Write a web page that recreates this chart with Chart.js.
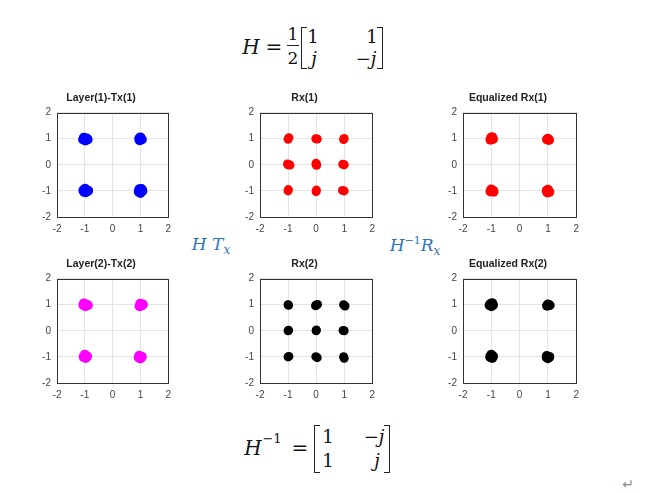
<!DOCTYPE html>
<html>
<head>
<meta charset="utf-8">
<script src="https://cdn.jsdelivr.net/npm/chart.js@4/dist/chart.umd.min.js"></script>
<style>
  body { margin: 0; background: #fff; }
  #page { position: relative; width: 663px; height: 493px; overflow: hidden; }
  canvas { position: absolute; }
  .m { position: absolute; transform: translate(-50%, -50%); font-family: "DejaVu Serif", serif; color: #111; white-space: nowrap; line-height: 1; }
  .i { font-style: italic; }
  .blue { color: #2e75b6; }
  .brl, .brr { position: absolute; border: 1.6px solid #222; width: 5px; }
  .brl { border-right: none; }
  .brr { border-left: none; }
  .fline { position: absolute; height: 1.4px; background: #222; }
</style>
</head>
<body>
<div id="page">
  <!-- top equation: H = 1/2 [1 1; j -j] -->
  <div class="m i" style="left:251px; top:47px; font-size:20px;">H</div>
  <div class="m" style="left:274px; top:47px; font-size:20px;">=</div>
  <div class="m" style="left:293px; top:34px; font-size:17px;">1</div>
  <div class="fline" style="left:287px; top:45px; width:12px;"></div>
  <div class="m" style="left:293px; top:58px; font-size:17px;">2</div>
  <div class="brl" style="left:301px; top:27px; height:40px;"></div>
  <div class="m" style="left:313px; top:37px; font-size:18px;">1</div>
  <div class="m" style="left:372px; top:37px; font-size:18px;">1</div>
  <div class="m i" style="left:314px; top:59px; font-size:18px;">j</div>
  <div class="m" style="left:366px; top:59px; font-size:18px;">&minus;<span class="i">j</span></div>
  <div class="brr" style="left:377px; top:27px; height:40px;"></div>

  <!-- blue labels -->
  <div class="m i blue" style="left:211px; top:246px; font-size:17px;">H T<sub style="font-size:12px;">x</sub></div>
  <div class="m i blue" style="left:415px; top:246px; font-size:17px;">H<sup style="font-size:11px; font-style:normal;">&minus;1</sup>R<sub style="font-size:12px;">x</sub></div>

  <!-- bottom equation: H^-1 = [1 -j; 1 j] -->
  <div class="m i" style="left:253px; top:448px; font-size:20px;">H</div>
  <div class="m" style="left:272px; top:438px; font-size:13px;">&minus;1</div>
  <div class="m" style="left:300px; top:448px; font-size:20px;">=</div>
  <div class="brl" style="left:314px; top:425px; height:46px;"></div>
  <div class="m" style="left:328px; top:437px; font-size:18px;">1</div>
  <div class="m" style="left:374px; top:437px; font-size:18px;">&minus;<span class="i">j</span></div>
  <div class="m" style="left:328px; top:461px; font-size:18px;">1</div>
  <div class="m i" style="left:377px; top:461px; font-size:18px;">j</div>
  <div class="brr" style="left:384px; top:425px; height:46px;"></div>

  <div class="m" style="left:628px; top:484px; font-size:14px; color:#888; font-family:'DejaVu Sans';">&#8629;</div>
</div>
<script>
// axis ticks shared by every subplot
const tickValues = [-2, -1, 0, 1, 2];

// subplot titles and colours
const titles = ['Layer(1)-Tx(1)', 'Rx(1)', 'Equalized Rx(1)', 'Layer(2)-Tx(2)', 'Rx(2)', 'Equalized Rx(2)'];
const colors = ['#0000ff', '#ff0000', '#ff0000', '#ff00ff', '#000000', '#000000'];

const tx1Points = [
  [-1.03, 1.04], [-0.93, 1.01], [-0.98, 0.93], [-1.06, 0.97], [-0.9, 0.97],
  [1.0, 1.05], [1.05, 0.97], [0.97, 0.94], [0.96, 1.01],
  [-1.05, -0.98], [-0.96, -1.05], [-0.88, -0.99], [-0.99, -0.92], [-1.02, -1.04],
  [0.96, -0.94], [1.07, -1.0], [1.0, -1.08], [0.94, -1.03], [1.04, -0.93]
];
const rx1Points = [
  [-0.97, 1.04], [-1.0, 0.98], [-0.01, 1.0], [0.04, 0.99], [1.0, 1.01], [0.98, 0.97],
  [-1.0, 0.0], [-0.93, -0.01], [-1.02, 0.03], [0.0, 0.06], [0.02, -0.02], [0.0, 0.0], [1.0, 0.0], [0.95, 0.02],
  [-1.0, -1.0], [-0.99, -0.95], [0.0, -1.03], [0.01, -0.97], [1.0, -1.0], [0.94, -0.98]
];
const eq1Points = [
  [-1.0, 1.04], [-0.94, 0.99], [-1.03, 0.96], [-0.97, 1.06],
  [1.0, 1.0], [1.04, 0.95], [0.97, 0.97],
  [-1.03, -1.02], [-0.94, -0.99], [-1.0, -0.95], [-0.92, -1.03],
  [1.0, -0.96], [1.05, -1.04], [0.98, -1.06], [0.96, -0.99]
];
const tx2Points = [
  [-1.03, 1.05], [-0.94, 1.0], [-0.98, 0.94], [-1.05, 0.99], [-0.89, 0.98],
  [1.0, 1.04], [1.05, 0.97], [0.97, 0.94], [1.09, 1.01],
  [-1.0, -0.92], [-0.97, -1.04], [-1.04, -1.0], [-0.92, -0.98],
  [0.96, -0.96], [1.05, -1.0], [1.0, -1.06], [0.94, -1.02]
];
const rx2Points = [
  [-1.0, 1.0], [-0.98, 0.98], [0.0, 0.99], [0.05, 1.01], [-0.02, 0.96], [0.98, 1.0], [1.03, 0.95],
  [-1.0, 0.0], [-0.98, 0.02], [0.0, 0.0], [0.01, 0.03], [1.0, 0.0], [0.96, 0.01],
  [-1.0, -1.0], [-0.97, -0.98], [-0.01, -0.99], [0.04, -1.03], [0.98, -0.99], [1.0, -1.05]
];
const eq2Points = [
  [-1.03, 1.03], [-0.94, 0.99], [-1.0, 0.94], [-0.97, 1.06], [-1.06, 0.98],
  [1.0, 1.01], [1.06, 0.98], [0.97, 0.96],
  [-1.0, -0.92], [-0.97, -1.04], [-1.04, -1.0], [-0.94, -0.98],
  [0.96, -0.97], [1.05, -1.0], [1.0, -1.05], [0.96, -1.02]
];
const allPoints = [tx1Points, rx1Points, eq1Points, tx2Points, rx2Points, eq2Points];
const pointSizes = [5, 4.5, 5, 5, 4.5, 5];

// plot-area boxes on the page: left, top, width, height
const plotBoxes = [
  [57, 113, 112, 104], [260, 113, 113, 104], [463, 113, 114, 104],
  [57, 279, 112, 104], [260, 279, 113, 104], [463, 279, 114, 104]
];

const Y_AXIS_W = 24;
const X_AXIS_H = 20;
const TITLE_H = 24;
const RIGHT_PAD = 8;

// draws the full dark box around the plot area
const boxPlugin = {
  id: 'box',
  afterDraw(chart) {
    const { ctx, chartArea: a } = chart;
    ctx.save();
    ctx.strokeStyle = '#333';
    ctx.lineWidth = 1;
    ctx.strokeRect(Math.round(a.left) + 0.5, Math.round(a.top) + 0.5, Math.round(a.right - a.left), Math.round(a.bottom - a.top));
    ctx.restore();
  }
};

const page = document.getElementById('page');

allPoints.forEach((pts, i) => {
  const [pl, pt, pw, ph] = plotBoxes[i];
  const canvas = document.createElement('canvas');
  const w = Y_AXIS_W + pw + RIGHT_PAD;
  const h = TITLE_H + ph + X_AXIS_H;
  canvas.width = w;
  canvas.height = h;
  canvas.style.left = (pl - Y_AXIS_W) + 'px';
  canvas.style.top = (pt - TITLE_H) + 'px';
  canvas.style.width = w + 'px';
  canvas.style.height = h + 'px';
  page.appendChild(canvas);

  const axis = {
    type: 'linear',
    min: -2,
    max: 2,
    afterBuildTicks: (s) => { s.ticks = tickValues.map((v) => ({ value: v })); },
    grid: { color: '#e3e3e3', drawTicks: false },
    border: { display: false }
  };

  new Chart(canvas, {
    type: 'scatter',
    data: {
      datasets: [{
        data: pts.map((p) => ({ x: p[0], y: p[1] })),
        backgroundColor: colors[i],
        borderWidth: 0,
        pointRadius: pointSizes[i]
      }]
    },
    options: {
      responsive: false,
      devicePixelRatio: 1,
      animation: false,
      layout: { padding: { left: 0, right: RIGHT_PAD, top: 0, bottom: 0 } },
      plugins: {
        legend: { display: false },
        tooltip: { enabled: false },
        title: {
          display: true,
          text: titles[i],
          color: '#222',
          font: { family: 'Liberation Sans', size: 10.5, weight: 'bold', lineHeight: 1.2 },
          padding: { top: 3, bottom: 8 }
        }
      },
      scales: {
        x: {
          ...axis,
          position: 'bottom',
          ticks: { color: '#444', font: { family: 'Liberation Sans', size: 10 }, padding: 6, maxRotation: 0 },
          afterFit: (s) => { s.height = X_AXIS_H; }
        },
        y: {
          ...axis,
          position: 'left',
          ticks: { color: '#444', font: { family: 'Liberation Sans', size: 10 }, padding: 6 },
          afterFit: (s) => { s.width = Y_AXIS_W; }
        }
      }
    },
    plugins: [boxPlugin]
  });
});
</script>
</body>
</html>
